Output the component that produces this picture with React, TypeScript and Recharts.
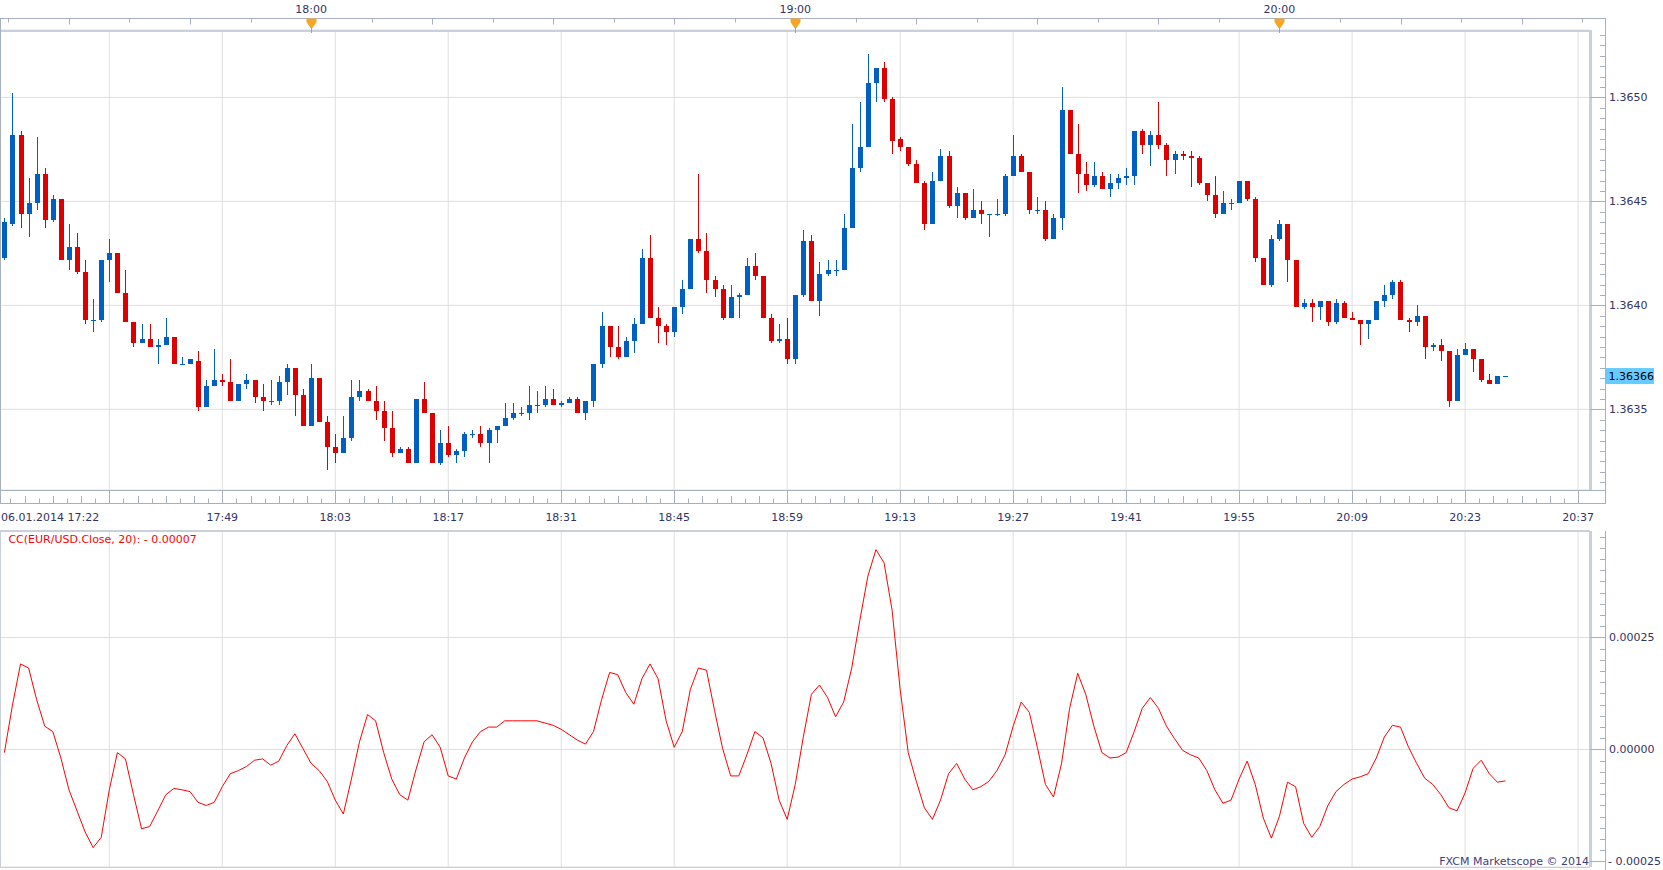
import React from "react";
import {
  ComposedChart,
  Bar,
  Line,
  XAxis,
  YAxis,
  CartesianGrid,
  Customized,
} from "recharts";

// EUR/USD, 1 minute candles, first one at 06.01.2014 17:22
const FIRST_MINUTE = 17 * 60 + 22;
const dateLabel = "06.01.2014 17:22";

const open = [
  1.36423, 1.36439, 1.36482, 1.36444, 1.36449, 1.36463, 1.36441, 1.36451, 1.36422, 1.36428,
  1.36416, 1.36393, 1.36393, 1.36422, 1.36425, 1.36406, 1.36392, 1.36382, 1.36384, 1.3638,
  1.36381, 1.36385, 1.36372, 1.36372, 1.36373, 1.36351, 1.36361, 1.36364, 1.36363, 1.36354,
  1.36362, 1.36364, 1.36356, 1.36354, 1.36354, 1.36363, 1.3637, 1.36357, 1.36342, 1.36365,
  1.36344, 1.36332, 1.36329, 1.36336, 1.36356, 1.36359, 1.36354, 1.36349, 1.36341, 1.36329,
  1.36331, 1.36324, 1.36355, 1.36348, 1.36324, 1.36334, 1.36328, 1.3633, 1.36338, 1.36338,
  1.36334, 1.3634, 1.36342, 1.36346, 1.36348, 1.36348, 1.36352, 1.36352, 1.36355, 1.36352,
  1.36353, 1.36355, 1.36348, 1.36354, 1.36372, 1.3639, 1.3638, 1.36375, 1.36383, 1.36391,
  1.36423, 1.36394, 1.3639, 1.36387, 1.36399, 1.36408, 1.36432, 1.36426, 1.36412, 1.36408,
  1.36394, 1.36404, 1.36405, 1.36419, 1.36414, 1.36394, 1.36383, 1.36384, 1.36374, 1.36405,
  1.36431, 1.36402, 1.36415, 1.36417, 1.36417, 1.36437, 1.36466, 1.36476, 1.36507, 1.36514,
  1.36499, 1.3648, 1.36476, 1.36468, 1.36459, 1.36439, 1.3646, 1.36472, 1.36448, 1.36454,
  1.36442, 1.36446, 1.36444, 1.36444, 1.36444, 1.36462, 1.36472, 1.36464, 1.36446, 1.36446,
  1.36432, 1.36442, 1.36494, 1.36473, 1.36463, 1.36458, 1.36462, 1.36456, 1.36459, 1.36461,
  1.36462, 1.36484, 1.36477, 1.36482, 1.36477, 1.3647, 1.36473, 1.36472, 1.36471, 1.36459,
  1.36453, 1.36444, 1.36449, 1.36449, 1.3646, 1.36451, 1.36423, 1.3641, 1.36432, 1.36439,
  1.36422, 1.36399, 1.36401, 1.36399, 1.36402, 1.36392, 1.36401, 1.36394, 1.36393, 1.36391,
  1.36393, 1.36402, 1.36405, 1.36411, 1.36393, 1.36392, 1.36395, 1.3638, 1.36381, 1.36378,
  1.36354, 1.36376, 1.36379, 1.36374, 1.36364, 1.36362, 1.36366,
];

const high = [
  1.36442, 1.36502, 1.36484, 1.36461, 1.36481, 1.36466, 1.36453, 1.36451, 1.36439, 1.36435,
  1.36422, 1.36403, 1.36422, 1.36432, 1.36425, 1.36417, 1.36392, 1.36391, 1.36391, 1.36384,
  1.36394, 1.36385, 1.36375, 1.36374, 1.36378, 1.36364, 1.36379, 1.36367, 1.36374, 1.36362,
  1.36367, 1.36364, 1.36362, 1.36364, 1.36366, 1.36372, 1.3637, 1.3636, 1.36372, 1.36365,
  1.36347, 1.36338, 1.36347, 1.36364, 1.36364, 1.3636, 1.36361, 1.36354, 1.36349, 1.36332,
  1.36332, 1.36355, 1.36363, 1.36348, 1.3634, 1.36342, 1.36331, 1.36339, 1.3634, 1.36342,
  1.36341, 1.36342, 1.36353, 1.36353, 1.36351, 1.36361, 1.36359, 1.36361, 1.3636, 1.36354,
  1.36356, 1.36356, 1.36354, 1.36372, 1.36397, 1.3639, 1.3639, 1.36385, 1.36394, 1.36427,
  1.36434, 1.36399, 1.36391, 1.36399, 1.36412, 1.36432, 1.36463, 1.36435, 1.36414, 1.3641,
  1.3641, 1.36406, 1.36423, 1.36425, 1.36414, 1.36396, 1.36391, 1.36394, 1.36405, 1.36436,
  1.36434, 1.36421, 1.36422, 1.36422, 1.36444, 1.36487, 1.36498, 1.36521, 1.36514, 1.36517,
  1.365, 1.36481, 1.36476, 1.3647, 1.3646, 1.36464, 1.36475, 1.36474, 1.36457, 1.36454,
  1.36456, 1.3645, 1.36444, 1.36451, 1.36463, 1.36482, 1.36473, 1.36464, 1.36452, 1.3645,
  1.36444, 1.36505, 1.36494, 1.36487, 1.36469, 1.36469, 1.36464, 1.36463, 1.36463, 1.36466,
  1.36484, 1.36485, 1.36484, 1.36498, 1.36478, 1.36474, 1.36474, 1.36474, 1.36472, 1.36459,
  1.36462, 1.36455, 1.36451, 1.3646, 1.3646, 1.36452, 1.36423, 1.36434, 1.36441, 1.36439,
  1.36422, 1.36403, 1.36403, 1.36402, 1.36402, 1.36403, 1.36402, 1.36397, 1.36393, 1.36393,
  1.36402, 1.3641, 1.36412, 1.36412, 1.36394, 1.364, 1.36395, 1.36382, 1.36384, 1.36378,
  1.36379, 1.36382, 1.36379, 1.36374, 1.36367, 1.36366, 1.36366,
];

const low = [
  1.36422, 1.36438, 1.36437, 1.36433, 1.36446, 1.36437, 1.3644, 1.36422, 1.36417, 1.36415,
  1.36391, 1.36387, 1.36392, 1.36411, 1.36406, 1.36392, 1.3638, 1.36382, 1.3638, 1.36372,
  1.36381, 1.36372, 1.36372, 1.36372, 1.36349, 1.36351, 1.36361, 1.36361, 1.36354, 1.36354,
  1.3636, 1.36353, 1.36349, 1.36352, 1.36352, 1.36357, 1.36347, 1.36342, 1.36342, 1.36344,
  1.36321, 1.36324, 1.36329, 1.36335, 1.36354, 1.36354, 1.36345, 1.36335, 1.36327, 1.36329,
  1.36324, 1.36324, 1.36348, 1.36324, 1.36323, 1.36327, 1.36324, 1.36327, 1.36336, 1.36332,
  1.36324, 1.36334, 1.36342, 1.36345, 1.36347, 1.36345, 1.36348, 1.36351, 1.36352, 1.36351,
  1.36353, 1.36348, 1.36345, 1.36351, 1.3637, 1.36375, 1.36374, 1.36375, 1.36377, 1.36391,
  1.36394, 1.36382, 1.36381, 1.36385, 1.36396, 1.36408, 1.36425, 1.36406, 1.36404, 1.36393,
  1.36394, 1.36394, 1.36405, 1.36412, 1.36394, 1.36382, 1.36382, 1.36372, 1.36372, 1.36404,
  1.36402, 1.36395, 1.36414, 1.36414, 1.36417, 1.36437, 1.36464, 1.36476, 1.36498, 1.36498,
  1.36473, 1.36474, 1.36467, 1.36459, 1.36436, 1.36439, 1.3646, 1.36447, 1.36442, 1.36441,
  1.36442, 1.36439, 1.36433, 1.36443, 1.36443, 1.36462, 1.36464, 1.36444, 1.36444, 1.36431,
  1.36432, 1.36436, 1.36473, 1.36454, 1.36455, 1.36457, 1.36456, 1.36452, 1.36456, 1.36458,
  1.36458, 1.36473, 1.36467, 1.36475, 1.36462, 1.36463, 1.3647, 1.36457, 1.36458, 1.3645,
  1.36442, 1.36444, 1.36446, 1.36449, 1.3645, 1.36421, 1.3641, 1.36409, 1.36431, 1.36411,
  1.36399, 1.36398, 1.36392, 1.36393, 1.3639, 1.36391, 1.36394, 1.36393, 1.36381, 1.36384,
  1.36393, 1.36399, 1.36403, 1.36393, 1.36387, 1.3639, 1.36374, 1.36378, 1.36373, 1.36351,
  1.36354, 1.36376, 1.36368, 1.36363, 1.36362, 1.36362, 1.36366,
];

const close = [
  1.3644, 1.36482, 1.36444, 1.36449, 1.36463, 1.36441, 1.36451, 1.36422, 1.36428, 1.36416,
  1.36393, 1.36393, 1.36422, 1.36425, 1.36406, 1.36392, 1.36382, 1.36384, 1.3638, 1.36381,
  1.36385, 1.36372, 1.36372, 1.36374, 1.36351, 1.36361, 1.36364, 1.36363, 1.36354, 1.36362,
  1.36364, 1.36356, 1.36354, 1.36354, 1.36363, 1.3637, 1.36357, 1.36342, 1.36365, 1.36344,
  1.36332, 1.36329, 1.36336, 1.36356, 1.36359, 1.36354, 1.36349, 1.36341, 1.36329, 1.36331,
  1.36324, 1.36355, 1.36348, 1.36324, 1.36334, 1.36328, 1.3633, 1.36338, 1.36338, 1.36334,
  1.3634, 1.36342, 1.36346, 1.36348, 1.36348, 1.36352, 1.36352, 1.36355, 1.36352, 1.36353,
  1.36355, 1.36348, 1.36354, 1.36372, 1.3639, 1.3638, 1.36375, 1.36383, 1.36391, 1.36423,
  1.36394, 1.3639, 1.36387, 1.36399, 1.36408, 1.36432, 1.36426, 1.36412, 1.36408, 1.36394,
  1.36404, 1.36405, 1.36419, 1.36414, 1.36394, 1.36383, 1.36384, 1.36374, 1.36405, 1.36431,
  1.36402, 1.36415, 1.36417, 1.36417, 1.36437, 1.36466, 1.36476, 1.36507, 1.36514, 1.36499,
  1.36479, 1.36476, 1.36468, 1.36459, 1.36439, 1.3646, 1.36472, 1.36448, 1.36454, 1.36442,
  1.36446, 1.36444, 1.36444, 1.36444, 1.36462, 1.36472, 1.36464, 1.36446, 1.36446, 1.36432,
  1.36442, 1.36494, 1.36473, 1.36463, 1.36458, 1.36462, 1.36456, 1.36459, 1.36461, 1.36462,
  1.36484, 1.36477, 1.36482, 1.36477, 1.3647, 1.36473, 1.36472, 1.36471, 1.36459, 1.36453,
  1.36444, 1.36449, 1.36449, 1.3646, 1.36451, 1.36423, 1.3641, 1.36432, 1.36439, 1.36422,
  1.36399, 1.36401, 1.36399, 1.36402, 1.36392, 1.36401, 1.36394, 1.36393, 1.36391, 1.36393,
  1.36402, 1.36405, 1.36411, 1.36393, 1.36392, 1.36395, 1.3638, 1.36381, 1.36378, 1.36354,
  1.36376, 1.36379, 1.36374, 1.36364, 1.36362, 1.36366, 1.36366,
];

// CC(EUR/USD.Close, 20), in units of 0.00001
const cc = [
  -0.7, 9.9, 19.1, 18.2, 11.1, 5.2, 4.0, -1.9, -9.0, -13.7,
  -18.4, -21.9, -19.6, -9.0, -0.7, -2.1, -10.1, -17.7, -17.2, -13.7,
  -10.1, -8.7, -9.0, -9.4, -11.8, -12.5, -11.8, -8.3, -5.4, -4.7,
  -3.8, -2.4, -2.1, -3.5, -2.6, 0.9, 3.5, 0.2, -3.1, -4.7,
  -7.1, -11.3, -14.4, -6.6, 1.7, 7.8, 6.4, -0.7, -6.6, -10.1,
  -11.3, -4.5, 1.7, 3.3, 0.5, -5.9, -6.6, -1.9, 1.7, 4.0,
  5.0, 5.0, 6.4, 6.4, 6.4, 6.4, 6.4, 5.9, 5.4, 4.5,
  3.3, 2.1, 1.2, 4.0, 11.1, 17.2, 16.7, 12.7, 10.1, 15.8,
  19.1, 15.8, 6.4, 0.5, 4.0, 13.4, 18.2, 17.7, 8.7, 0.2,
  -5.9, -5.9, -1.2, 4.0, 2.6, -3.1, -11.3, -15.6, -7.8, 2.8,
  12.3, 14.4, 11.6, 7.3, 10.6, 18.2, 28.8, 38.7, 44.6, 41.7,
  31.1, 13.4, -0.7, -7.1, -13.0, -15.6, -11.3, -5.4, -3.1, -6.6,
  -9.0, -8.3, -7.1, -4.7, -1.2, 5.2, 10.6, 8.3, 0.5, -7.8,
  -10.6, -3.1, 9.2, 17.0, 12.3, 5.2, -0.7, -1.9, -1.7, -0.7,
  4.0, 9.2, 11.6, 9.2, 5.2, 2.4, -0.2, -1.2, -1.9, -4.7,
  -9.0, -12.0, -11.3, -6.6, -2.6, -7.8, -15.3, -19.8, -14.9, -7.3,
  -8.3, -16.5, -19.6, -17.2, -12.5, -9.4, -7.8, -6.6, -6.1, -5.4,
  -1.9, 2.8, 5.4, 5.0, 0.5, -3.1, -6.4, -7.8, -10.1, -13.0,
  -13.7, -9.7, -4.2, -2.4, -5.4, -7.3, -7.0,
];

const gridTimes = [
  "17:35", "17:49", "18:03", "18:17", "18:31", "18:45", "18:59",
  "19:13", "19:27", "19:41", "19:55", "20:09", "20:23", "20:37",
];
const topTimes = ["18:00", "19:00", "20:00"];
const priceGrid = [1.3635, 1.364, 1.3645, 1.365];
const ccGrid = [-25, 0, 25];

// layout
const WIDTH = 1663;
const PLOT_RIGHT = 1590;
const AXIS_X = 1605.5;
const PX_PER_MIN = 8.07;
const X_MIN = FIRST_MINUTE - 0.545;
const X_MAX = X_MIN + PLOT_RIGHT / PX_PER_MIN;
const PRICE_DOMAIN: [number, number] = [1.363112, 1.365324];
const CC_DOMAIN: [number, number] = [-26.23, 48.77];

const BLUE = "#0060c2";
const RED = "#dd0000";
const LINE = "#a7b0bf";
const FRAME = "#c9d0da";
const GRID = "#dfdfdf";
const TEXT = "#333366";
const FONT = "'DejaVu Sans', Verdana, sans-serif";

const toMin = (s: string) => {
  const [h, m] = s.split(":").map(Number);
  return h * 60 + m;
};
const fmt = (m: number) => `${Math.floor(m / 60)}:${String(m % 60).padStart(2, "0")}`;

const gridMinutes = gridTimes.map(toMin);
const lastClose = close[close.length - 1];
const lastCc = cc[cc.length - 1];

const rows = open.map((o, i) => ({
  t: FIRST_MINUTE + i,
  o,
  h: high[i],
  l: low[i],
  c: close[i],
  range: [low[i], high[i]],
  cc: cc[i],
}));

// axis ticks
const bottomTicks = [FIRST_MINUTE];
for (let k = -7; gridMinutes[0] + 1.75 * k <= X_MAX; k++) bottomTicks.push(gridMinutes[0] + 1.75 * k);
const topTicks: number[] = [];
for (let t = FIRST_MINUTE + 0.5; t <= X_MAX; t += 7.5) topTicks.push(t);
const priceTicks: number[] = [lastClose];
for (let k = Math.ceil(PRICE_DOMAIN[0] / 0.00005); k * 0.00005 <= PRICE_DOMAIN[1]; k++) priceTicks.push(k * 0.00005);
const ccTicks: number[] = [];
for (let k = -10; k * 2.5 <= CC_DOMAIN[1]; k++) ccTicks.push(k * 2.5);

const ccText = (v: number) =>
  v === 0 ? "0.00000" : v > 0 ? (v / 1e5).toFixed(5) : "- " + (-v / 1e5).toFixed(5);

const txt = { fontFamily: FONT, fontSize: 11 };

function Candle(props: any) {
  const { x, y, width, height, payload } = props;
  if (x == null || y == null) return null;
  const { o, h, l, c } = payload;
  const color = c >= o ? BLUE : RED;
  const cx = Math.round(x + width / 2 - 0.5);
  const top = Math.min(y, y + height);
  const span = Math.abs(height);
  const k = h > l ? span / (h - l) : 0;
  const bt = Math.round(top + (h - Math.max(o, c)) * k);
  const bb = Math.round(top + (h - Math.min(o, c)) * k);
  const wt = Math.round(top);
  const wb = Math.round(top + span);
  return (
    <g shapeRendering="crispEdges">
      <rect x={cx} y={wt} width={1} height={Math.max(1, wb - wt)} fill={color} />
      <rect x={cx - 2} y={bt} width={5} height={Math.max(1, bb - bt)} fill={color} />
    </g>
  );
}

function TimeTick(props: any) {
  const { x, payload } = props;
  const t: number = payload.value;
  if (t === FIRST_MINUTE) {
    return (
      <text x={x - 3.4} y={517} textAnchor="start" dominantBaseline="central" fill={TEXT} {...txt}>
        {dateLabel}
      </text>
    );
  }
  const steps = Math.round((t - gridMinutes[0]) / 1.75);
  const major = steps % 8 === 0;
  const mid = steps % 2 === 0;
  const xx = Math.round(x) + 0.5;
  return (
    <g>
      <line x1={xx} x2={xx} y1={major ? 490 : mid ? 496 : 498.5} y2={503} stroke={LINE} />
      {major && steps !== 0 && (
        <text x={x} y={517} textAnchor="middle" dominantBaseline="central" fill={TEXT} {...txt}>
          {fmt(t)}
        </text>
      )}
    </g>
  );
}

function TopTick(props: any) {
  const { x, payload } = props;
  const t: number = payload.value;
  const xx = Math.round(x) + 0.5;
  const major = t % 15 === 0;
  const hour = Number.isInteger(t) && topTimes.includes(fmt(t));
  return (
    <g>
      <line x1={xx} x2={xx} y1={18.5} y2={major ? 24.5 : 22.5} stroke={LINE} />
      {hour && (
        <>
          <text x={x} y={9} textAnchor="middle" dominantBaseline="central" fill={TEXT} {...txt}>
            {fmt(t)}
          </text>
          <line x1={xx} x2={xx} y1={26} y2={33} stroke="#9aa3b2" />
          <polygon
            points={`${xx - 5},18.5 ${xx + 5},18.5 ${xx + 5},22 ${xx + 1},28 ${xx - 1},28 ${xx - 5},22`}
            fill="#f6a524"
          />
        </>
      )}
    </g>
  );
}

function PriceTick(props: any) {
  const { y, payload } = props;
  const v: number = payload.value;
  if (v === lastClose) {
    return (
      <g>
        <rect x={1606} y={y - 8} width={48} height={16} fill="#66ccff" />
        <text x={1608.5} y={y} dominantBaseline="central" fill="#000" {...txt}>
          {v.toFixed(5)}
        </text>
      </g>
    );
  }
  const major = Math.round(v / 0.00005) % 10 === 0;
  const yy = Math.round(y) + 0.5;
  return (
    <g>
      <line x1={major ? PLOT_RIGHT : 1600} x2={AXIS_X} y1={yy} y2={yy} stroke={LINE} />
      {major && (
        <text x={1609} y={y} dominantBaseline="central" fill={TEXT} {...txt}>
          {v.toFixed(4)}
        </text>
      )}
    </g>
  );
}

function CcTick(props: any) {
  const { y, payload } = props;
  const v: number = payload.value;
  const major = Math.round(v / 2.5) % 10 === 0;
  const yy = Math.round(y) + 0.5;
  return (
    <g>
      <line x1={major ? PLOT_RIGHT : 1600} x2={AXIS_X} y1={yy} y2={yy} stroke={LINE} />
      {major && (
        <text x={v < 0 ? 1608 : 1609} y={y} dominantBaseline="central" fill={TEXT} {...txt}>
          {ccText(v)}
        </text>
      )}
    </g>
  );
}

const PriceFrame = () => (
  <g shapeRendering="crispEdges">
    <line x1={0} x2={AXIS_X} y1={18.5} y2={18.5} stroke={LINE} />
    <line x1={0.5} x2={0.5} y1={18.5} y2={503.5} stroke={LINE} />
    <line x1={0} x2={AXIS_X} y1={490.5} y2={490.5} stroke={LINE} />
    <line x1={0} x2={AXIS_X} y1={503.5} y2={503.5} stroke={LINE} />
    <line x1={AXIS_X} x2={AXIS_X} y1={18.5} y2={503.5} stroke={LINE} />
    <rect x={1} y={30} width={PLOT_RIGHT} height={2} fill={FRAME} />
    <rect x={PLOT_RIGHT - 1.5} y={30} width={3} height={460} fill={FRAME} />
  </g>
);

const IndicatorFrame = () => (
  <g>
    <g shapeRendering="crispEdges">
      <rect x={0} y={2} width={PLOT_RIGHT} height={2} fill={FRAME} />
      <rect x={PLOT_RIGHT - 1.5} y={3} width={3} height={336} fill={FRAME} />
      <line x1={0} x2={PLOT_RIGHT} y1={339.5} y2={339.5} stroke={FRAME} />
      <line x1={0.5} x2={0.5} y1={3} y2={340} stroke={FRAME} />
      <line x1={AXIS_X} x2={AXIS_X} y1={3} y2={342} stroke={LINE} />
    </g>
    <text x={8.4} y={11} dominantBaseline="central" fill="#ff0000" {...txt}>
      {`CC(EUR/USD.Close, 20): ${ccText(lastCc)}`}
    </text>
    <text x={1589} y={333} textAnchor="end" dominantBaseline="central" fill="#3f3d80" {...txt}>
      FXCM Marketscope © 2014
    </text>
  </g>
);

export default function App() {
  return (
    <div style={{ position: "absolute", left: 0, top: 0, width: WIDTH, height: 870, background: "#fff" }}>
      <ComposedChart width={WIDTH} height={528} data={rows} margin={{ top: 0, right: 0, bottom: 0, left: 0 }}>
        <XAxis
          xAxisId="time"
          type="number"
          dataKey="t"
          domain={[X_MIN, X_MAX]}
          allowDataOverflow
          ticks={bottomTicks}
          interval={0}
          tick={TimeTick}
          tickLine={false}
          axisLine={false}
          height={38}
        />
        <XAxis
          xAxisId="top"
          orientation="top"
          type="number"
          dataKey="t"
          domain={[X_MIN, X_MAX]}
          allowDataOverflow
          ticks={topTicks}
          interval={0}
          tick={TopTick}
          tickLine={false}
          axisLine={false}
          height={30}
        />
        <XAxis xAxisId="grid" type="number" dataKey="t" domain={[X_MIN, X_MAX]} allowDataOverflow ticks={gridMinutes} hide />
        <YAxis
          yAxisId="price"
          orientation="right"
          type="number"
          domain={PRICE_DOMAIN}
          allowDataOverflow
          ticks={priceTicks}
          interval={0}
          tick={PriceTick}
          tickLine={false}
          axisLine={false}
          width={73}
        />
        <YAxis yAxisId="grid" type="number" domain={PRICE_DOMAIN} allowDataOverflow ticks={priceGrid} hide />
        <CartesianGrid xAxisId="grid" yAxisId="grid" stroke={GRID} />
        <Bar
          xAxisId="time"
          yAxisId="price"
          dataKey="range"
          barSize={5}
          shape={Candle}
          isAnimationActive={false}
        />
        <Customized component={PriceFrame} />
      </ComposedChart>
      <ComposedChart width={WIDTH} height={342} data={rows} margin={{ top: 3, right: 0, bottom: 3, left: 0 }}>
        <XAxis xAxisId="time" type="number" dataKey="t" domain={[X_MIN, X_MAX]} allowDataOverflow ticks={gridMinutes} hide />
        <YAxis
          yAxisId="cc"
          orientation="right"
          type="number"
          domain={CC_DOMAIN}
          allowDataOverflow
          ticks={ccTicks}
          interval={0}
          tick={CcTick}
          tickLine={false}
          axisLine={false}
          width={73}
        />
        <YAxis yAxisId="grid" type="number" domain={CC_DOMAIN} allowDataOverflow ticks={ccGrid} hide />
        <CartesianGrid xAxisId="time" yAxisId="grid" stroke={GRID} />
        <Line
          xAxisId="time"
          yAxisId="cc"
          type="linear"
          dataKey="cc"
          stroke="#ff0000"
          strokeWidth={1}
          dot={false}
          isAnimationActive={false}
        />
        <Customized component={IndicatorFrame} />
      </ComposedChart>
    </div>
  );
}
